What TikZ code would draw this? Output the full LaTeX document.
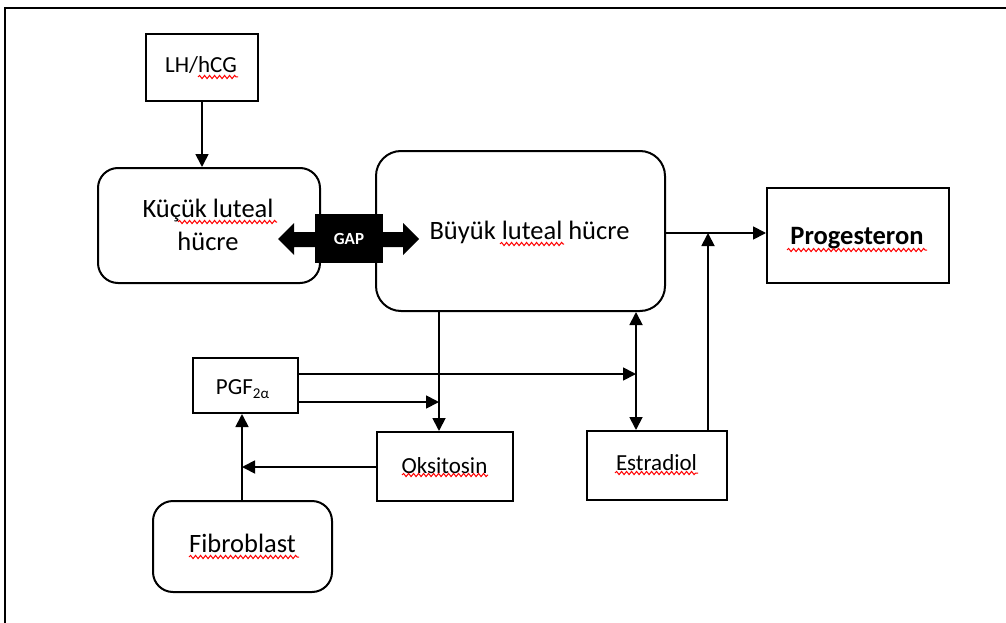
\documentclass[tikz,border=0pt]{standalone}
\usepackage{fontspec}
\setmainfont{Carlito}
\usetikzlibrary{arrows.meta,decorations.pathmorphing}
\begin{document}
\begin{tikzpicture}[x=1pt,y=-1pt,
  box/.style={draw,line width=2pt,inner sep=0pt},
  rbox/.style={box,rounded corners=20pt},
  txt/.style={anchor=base,inner sep=0pt},
  big/.style={txt,font=\fontsize{26.5}{31}\selectfont},
  small/.style={txt,font=\fontsize{23}{27}\selectfont},
  arr/.style={line width=1.8pt,-{Triangle[length=13pt,width=13pt]}},
  darr/.style={line width=1.8pt,{Triangle[length=13pt,width=13pt]}-{Triangle[length=13pt,width=13pt]}},
  squig/.style={red,line width=1pt,decorate,decoration={snake,segment length=5pt,amplitude=1.6pt}}]
\useasboundingbox (0,0) rectangle (1006,623);
\draw[line width=1.3pt] (5,623) -- (5,8) -- (1006,8);

% boxes
\node[box,minimum width=112pt,minimum height=67pt] (lh) at (202,67.5) {};
\node[rbox,minimum width=222pt,minimum height=115pt] (kucuk) at (209,225.5) {};
\node[rbox,rounded corners=25pt,minimum width=289pt,minimum height=160pt] (buyuk) at (520.5,231) {};
\node[box,minimum width=182pt,minimum height=95pt] (prog) at (858,235.5) {};
\node[box,minimum width=105pt,minimum height=55pt] (pgf) at (245.5,385.5) {};
\node[box,minimum width=136pt,minimum height=69pt] (oks) at (445,466.5) {};
\node[box,minimum width=140pt,minimum height=69pt] (estr) at (657,465.5) {};
\node[rbox,minimum width=179pt,minimum height=91pt] (fib) at (242.5,546.5) {};

% texts
\node[small] (lhT) at (201,73) {LH/hCG};
\node[big] (kucukT1) at (208,217) {Küçük luteal};
\node[big] (kucukT2) at (208,250) {hücre};
\node[big] (buyukT) at (529.5,239) {Büyük luteal hücre};
\node[big,font=\fontsize{26.5}{31}\selectfont\bfseries] (progT) at (857,244) {Progesteron};
\node[small] (pgfT) at (242.5,394) {PGF{\fontsize{15}{15}\selectfont\raisebox{-4.5pt}{2α}}};
\node[small] (oksT) at (444.5,473) {Oksitosin};
\node[small] (estrT) at (656.5,470) {Estradiol};
\node[big] (fibT) at (242.5,552) {Fibroblast};

% spell-check squiggles
\draw[squig] (198,77) -- (238,77);
\draw[squig] (178,222) -- (277,222);
\draw[squig] (500,244) -- (564,244);
\draw[squig] (787,250) -- (927,250);
\draw[squig] (402,475) -- (488,475);
\draw[squig] (189,557) -- (299,557);
\draw[squig] (615,473) -- (698,473);

% GAP junction
\node[fill=black,minimum width=68pt,minimum height=49pt,inner sep=0pt,
      text=white,font=\fontsize{17}{17}\selectfont\bfseries] (gap) at (349,238.5) {GAP};
\fill (gap.west |- 0,232) -- (294,232) -- (294,223) -- (278,239) -- (294,255) -- (294,247) -- (gap.west |- 0,247) -- cycle;
\fill (gap.east |- 0,232) -- (403,232) -- (403,223) -- (419,239) -- (403,255) -- (403,247) -- (gap.east |- 0,247) -- cycle;

% junction coordinates
\coordinate (jP) at (708,233);
\coordinate (jE) at (636,374);
\coordinate (jO) at (439,402);
\coordinate (jF) at (242,467);

% connectors
\draw[arr] (lh.south) -- (lh.south |- kucuk.north);
\draw[arr] (buyuk.east |- jP) -- (prog.west |- jP);
\draw[arr] (jP |- estr.north) -- (jP);
\draw[darr] (jE |- buyuk.south) -- (jE |- estr.north);
\draw[arr] (pgf.east |- jE) -- (jE);
\draw[arr] (jO |- buyuk.south) -- (jO |- oks.north);
\draw[arr] (pgf.east |- jO) -- (jO);
\draw[arr] (oks.west |- jF) -- (jF);
\draw[arr] (jF |- fib.north) -- (jF |- pgf.south);
\end{tikzpicture}
\end{document}
